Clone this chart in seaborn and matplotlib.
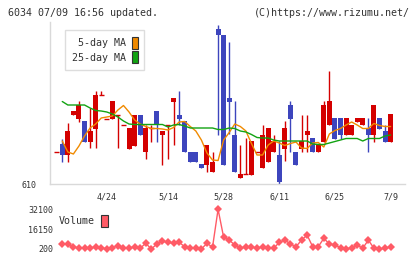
import numpy as np
import pandas as pd
import matplotlib
matplotlib.use("Agg")
import matplotlib.pyplot as plt
from matplotlib.patches import Patch
import seaborn as sns

# daily prices (yen), oldest first
opens  = [675, 690, 669, 749, 741, 736, 694, 721, 788, 741, 741, 749, 729, 681, 686, 749,
          674, 723, 756, 709, 729, 775, 749, 736, 675, 675, 650, 649, 635, 921, 908, 782,
          709, 623, 630, 628, 675, 643, 655, 675, 669, 681, 768, 675, 681, 709, 702, 675,
          695, 729, 742, 742, 708, 708, 735, 728, 722, 708, 742, 716, 695]
highs  = [675, 701, 733, 756, 776, 736, 763, 796, 796, 741, 776, 749, 729, 722, 749, 749,
          729, 729, 756, 716, 729, 782, 796, 736, 675, 675, 650, 689, 675, 928, 908, 895,
          776, 689, 702, 696, 675, 729, 723, 709, 696, 736, 776, 675, 749, 749, 702, 689,
          776, 836, 742, 742, 742, 729, 742, 742, 742, 768, 742, 729, 750]
lows   = [675, 655, 655, 749, 734, 694, 682, 682, 788, 741, 741, 682, 729, 681, 686, 708,
          661, 694, 694, 649, 661, 689, 729, 674, 655, 655, 643, 635, 635, 709, 649, 710,
          635, 623, 630, 628, 675, 643, 655, 675, 611, 656, 675, 649, 675, 675, 675, 675,
          695, 729, 701, 701, 708, 708, 735, 728, 674, 695, 721, 695, 695]
closes = [675, 669, 716, 756, 768, 694, 716, 788, 788, 741, 776, 749, 729, 722, 749, 708,
          723, 723, 729, 716, 729, 782, 741, 674, 655, 655, 643, 689, 655, 908, 649, 775,
          635, 630, 630, 696, 675, 709, 723, 696, 615, 723, 741, 649, 696, 716, 675, 689,
          768, 776, 701, 708, 742, 729, 742, 742, 708, 768, 721, 695, 750]

# moving averages as drawn on the chart (first day has none)
ma5 = [np.nan, 696, 674, 670, 686, 706, 722, 730, 742, 744, 746, 758, 767, 754, 738, 730,
       725, 721, 721, 720, 718, 723, 734, 735, 725, 716, 698, 672, 658, 657, 698, 713,
       730, 725, 716, 691, 668, 668, 688, 696, 692, 687, 691, 694, 682, 681, 692, 693,
       684, 710, 717, 721, 728, 734, 728, 721, 721, 731, 727, 725, 725]
ma25 = [np.nan, 775, 768, 768, 768, 768, 762, 757, 756, 754, 750, 744, 736, 730, 729, 729,
        729, 729, 729, 729, 724, 728, 729, 726, 722, 722, 722, 722, 722, 719, 719, 722,
        721, 716, 714, 709, 703, 702, 702, 698, 696, 696, 696, 696, 696, 696, 690, 689,
        689, 692, 695, 698, 701, 701, 701, 696, 701, 701, 701, 706, 708]

volume = [np.nan, 4200, 4200, 2000, 800, 800, 800, 2000, 1200, 200, 1200, 2900, 800, 800,
          2000, 800, 4800, 200, 4200, 6600, 5600, 4800, 5600, 2000, 800, 800, 200, 4800,
          1600, 32100, 9600, 7400, 3400, 800, 2000, 2000, 800, 2000, 800, 800, 5600, 7400,
          4200, 2000, 7400, 11400, 2000, 2000, 8800, 4200, 3400, 1200, 200, 1200, 3400,
          800, 7400, 800, 200, 800, 2000]

date_labels = ["4/24", "5/14", "5/28", "6/11", "6/25", "7/9"]
date_pos = [9, 20, 30, 40, 50, 60]
vol_ticks = [200, 16150, 32100]

df = pd.DataFrame({"open": opens, "high": highs, "low": lows, "close": closes,
                   "ma5": ma5, "ma25": ma25, "volume": volume})
df["day"] = np.arange(len(df))

UP = "#d40000"
DOWN = "#3d45bd"
GRID = "#d9d9d9"
TXT = "#333333"

sns.set_style("white")
plt.rcParams["font.family"] = ["DejaVu Sans Mono"]

W, H = 420, 259
fig = plt.figure(figsize=(W / 100, H / 100), dpi=100)

def px_axes(x0, y0, x1, y1):
    return fig.add_axes([x0 / W, 1 - y1 / H, (x1 - x0) / W, (y1 - y0) / H])

xlim = (-1.204, 62.59)

# ---- price panel
ax = px_axes(50, 22, 405, 184)
up = df["close"] >= df["open"]
colors = np.where(up, UP, DOWN)
ax.vlines(df["day"], df["low"], df["high"], colors=colors, linewidth=1.0, zorder=2)
body = (df["close"] - df["open"]).abs()
ax.bar(df["day"], body, bottom=df[["open", "close"]].min(axis=1), width=0.9,
       color=colors, linewidth=0, zorder=3)
doji = body == 0
ax.hlines(df.loc[doji, "close"], df.loc[doji, "day"] - 0.45, df.loc[doji, "day"] + 0.45,
          colors=UP, linewidth=1.0, zorder=3)

sns.lineplot(data=df, x="day", y="ma5", ax=ax, color="#f08a00", linewidth=1.0, zorder=4)
sns.lineplot(data=df, x="day", y="ma25", ax=ax, color="#12a312", linewidth=1.0, zorder=4)

ax.set_xlim(*xlim)
ax.set_ylim(610, 934)
ax.set_xlabel("")
ax.set_ylabel("")
for s in ["top", "right"]:
    ax.spines[s].set_visible(False)
for s in ["left", "bottom"]:
    ax.spines[s].set_color(GRID)
    ax.spines[s].set_linewidth(1.0)
ax.set_yticks([610])
ax.set_yticklabels(["610"])
ax.set_xticks(np.linspace(xlim[0], xlim[1], 12))
ax.set_xticklabels([])
ax.tick_params(axis="y", length=5, width=1.0, color=GRID, pad=4.5, labelsize=6, labelcolor=TXT)
ax.tick_params(axis="x", direction="inout", length=5.8, width=1.0, color=GRID)
for p, lab in zip(date_pos, date_labels):
    ax.text(p, -0.083, lab, transform=ax.get_xaxis_transform(), ha="center", va="center",
            fontsize=6, color=TXT)

fig.legend(handles=[Patch(facecolor="#f08a00", edgecolor="#333333", linewidth=0.8),
                    Patch(facecolor="#12a312", edgecolor="#333333", linewidth=0.8)],
           labels=[" 5-day MA", "25-day MA"], loc="upper left",
           bbox_to_anchor=(65 / W, 1 - 30 / H), borderaxespad=0, markerfirst=False,
           fontsize=7.2, handlelength=0.6, handleheight=1.5, handletextpad=0.6,
           labelspacing=0.25, borderpad=0.65, fancybox=False, framealpha=1,
           edgecolor="#dddddd", labelcolor=TXT)

# ---- volume panel
vax = px_axes(50, 209.3, 405, 249)
sns.lineplot(data=df, x="day", y="volume", ax=vax, color="#ff5b66", linewidth=1.0,
             marker="D", markersize=4, markeredgewidth=0, clip_on=False)
vax.set_xlim(*xlim)
vax.set_ylim(vol_ticks[0], vol_ticks[-1])
vax.set_xlabel("")
vax.set_ylabel("")
vax.set_xticks([])
vax.set_yticks(vol_ticks)
vax.set_yticklabels([str(v) for v in vol_ticks])
vax.tick_params(axis="y", length=0, pad=-2.4, labelsize=6, labelcolor=TXT)
for s in vax.spines.values():
    s.set_visible(False)
vax.patch.set_alpha(0)

fig.legend(handles=[Patch(facecolor="#ff5b66", edgecolor="#333333", linewidth=0.8)],
           labels=["Volume"], loc="center left", bbox_to_anchor=(55 / W, 1 - 221 / H),
           borderaxespad=0, markerfirst=False, fontsize=7.2, handlelength=0.7,
           handleheight=1.6, handletextpad=0.6, frameon=False, labelcolor=TXT)

fig.text(8 / W, 1 - 12.5 / H, "6034 07/09 16:56 updated.", fontsize=7.2, color=TXT,
         ha="left", va="center")
fig.text(410 / W, 1 - 12.5 / H, "(C)https://www.rizumu.net/", fontsize=7.2, color=TXT,
         ha="right", va="center")

fig.savefig("out.png", dpi=100)
